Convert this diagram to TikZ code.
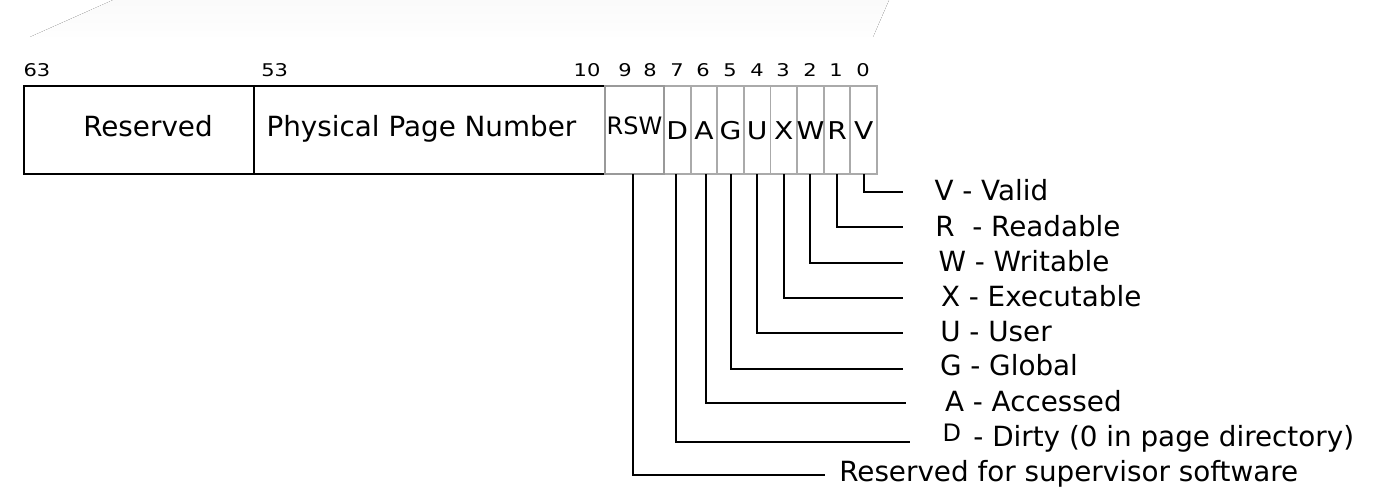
\documentclass[tikz,border=0pt]{standalone}
\usepackage{fontspec}
\setmainfont{DejaVu Sans}
\newfontfamily\digitfont[FakeStretch=1.2]{DejaVu Sans}
\newfontfamily\bitfont[FakeStretch=1.15]{DejaVu Sans}
\definecolor{rswgray}{HTML}{999999}
\definecolor{bitgray}{HTML}{AAAAAA}
\begin{document}
\begin{tikzpicture}[x=1pt,y=-1pt,
  blackbox/.style={draw=black, line width=1.3pt, minimum height=88pt, inner sep=0pt, outer sep=0pt, anchor=north west},
  rswbox/.style={draw=rswgray, line width=2.5pt, minimum height=88pt, inner sep=0pt, outer sep=0pt, anchor=north west},
  bitbox/.style={draw=bitgray, line width=1.8pt, minimum height=88pt, minimum width=26.625pt, inner sep=0pt, outer sep=0pt, anchor=north west},
  lbl/.style={inner sep=0pt, outer sep=0pt, anchor=base west, font=\fontsize{27.8}{33}\selectfont},
  num/.style={inner sep=0pt, outer sep=0pt, anchor=base, font=\digitfont\fontsize{17.5}{20}\selectfont},
  bitlbl/.style={inner sep=0pt, outer sep=0pt, anchor=base, font=\bitfont\fontsize{24.5}{28}\selectfont},
  conn/.style={draw=black, line width=2pt}]
\useasboundingbox (0,0) rectangle (1376,500);
% faint background band
\fill[top color=black!2, bottom color=black!0.3, draw=none] (30,37) -- (113,0) -- (889,0) -- (873,37) -- cycle;

% field boxes
\node[blackbox, minimum width=230pt] (res) at (24,86) {};
\node[blackbox, minimum width=351pt, line width=1.7pt] (ppn) at (254,86) {};
\foreach \n [count=\i from 0] in {D,A,G,U,X,W,R,V}
  \node[bitbox] (b\n) at ({664+26.625*\i},86) {};
\node[rswbox, minimum width=59pt] (rsw) at (605,86) {};

% texts in boxes
\node[lbl] (tres) at (83.3,137) {Reserved};
\node[lbl] (tppn) at (266.6,137) {Physical Page Number};
\node[bitlbl, font=\fontsize{24}{28}\selectfont] (trsw) at (634.5,135) {RSW};
\foreach \n in {D,A,G,U,X,W,R,V}
  \node[bitlbl] (t\n) at ([yshift=-9.5pt]b\n.center) {\n};

% bit numbers
\node[num] (n63) at (37,77) {63};
\node[num] (n53) at (274.7,77) {53};
\node[num] (n10) at (587,77) {10};
\node[num] (n9) at (625,77) {9};
\node[num] (n8) at (650,77) {8};
\node[num] (n7) at (677,77) {7};
\node[num] (n6) at (703,77) {6};
\node[num] (n5) at (730,77) {5};
\node[num] (n4) at (757,77) {4};
\node[num] (n3) at (783,77) {3};
\node[num] (n2) at (810,77) {2};
\node[num] (n1) at (836,77) {1};
\node[num] (n0) at (863,77) {0};

% connector ends
\coordinate (eV) at (903,191.7);
\coordinate (eR) at (903,227.3);
\coordinate (eW) at (903,262.7);
\coordinate (eX) at (903,298.3);
\coordinate (eU) at (903,333.3);
\coordinate (eG) at (903,369);
\coordinate (eA) at (906,403.3);
\coordinate (eD) at (910,441.7);
\coordinate (eRSW) at (825,475);

% connectors
\draw[conn] (bV.south) |- (eV);
\draw[conn] (bR.south) |- (eR);
\draw[conn] (bW.south) |- (eW);
\draw[conn] (bX.south) |- (eX);
\draw[conn] (bU.south) |- (eU);
\draw[conn] (bG.south) |- (eG);
\draw[conn] ([xshift=2pt]bA.south) |- (eA);
\draw[conn] ([xshift=-1.5pt]bD.south) |- (eD);
\draw[conn] ([xshift=-1.2pt]rsw.south) |- (eRSW);

% legend
\node[lbl] (lV) at (934.5,200) {V - Valid};
\node[lbl] (lR) at (935.3,236) {R~ - Readable};
\node[lbl] (lW) at (938.5,271.7) {W - Writable};
\node[lbl] (lX) at (941,306.7) {X - Executable};
\node[lbl] (lU) at (940.3,341.7) {U - User};
\node[lbl] (lG) at (940,375) {G - Global};
\node[lbl] (lA) at (945,411.7) {A - Accessed};
\node[lbl] (lD) at (942.6,446) {{\fontsize{24}{28}\selectfont\raisebox{4.3pt}{D}}\hspace{3.5pt} - Dirty (0 in page directory)};
\node[lbl] (lRSW) at (839.3,481.7) {Reserved for supervisor software};
\end{tikzpicture}
\end{document}
